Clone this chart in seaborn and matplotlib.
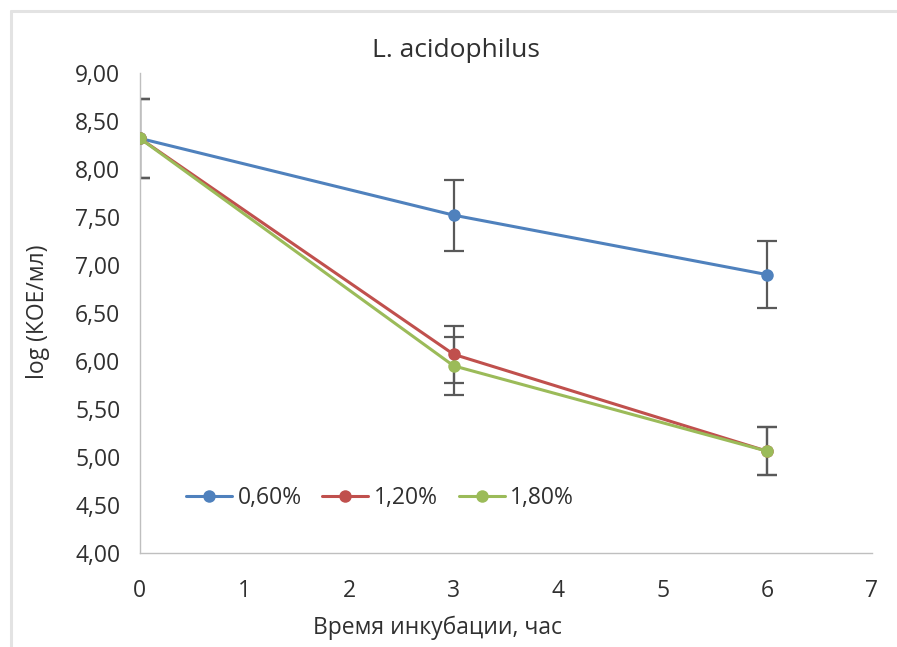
import matplotlib
matplotlib.use("Agg")
import matplotlib.pyplot as plt
from matplotlib.lines import Line2D
import seaborn as sns
import pandas as pd
import numpy as np

# Data
hours = [0, 3, 6]
series_names = ["0,60%", "1,20%", "1,80%"]
vals_060 = [8.32, 7.52, 6.90]
vals_120 = [8.32, 6.07, 5.06]
vals_180 = [8.32, 5.95, 5.06]
err_060 = [0.41, 0.37, 0.35]
err_120 = [0.41, 0.30, 0.25]
err_180 = [0.41, 0.30, 0.25]
yticks = [4.0, 4.5, 5.0, 5.5, 6.0, 6.5, 7.0, 7.5, 8.0, 8.5, 9.0]
ytick_labels = ["4,00", "4,50", "5,00", "5,50", "6,00", "6,50", "7,00", "7,50", "8,00", "8,50", "9,00"]
xticks = [0, 1, 2, 3, 4, 5, 6, 7]
colors = ["#4F81BD", "#C0504D", "#9BBB59"]

sns.set_style("white")
plt.rcParams['font.family'] = ['Open Sans', 'DejaVu Sans']
TXT = "#303030"
FS = 16.5

all_vals = [vals_060, vals_120, vals_180]
all_errs = [err_060, err_120, err_180]
df = pd.DataFrame({
    "hour": hours * 3,
    "value": vals_060 + vals_120 + vals_180,
    "series": [s for s in series_names for _ in hours],
})

fig = plt.figure(figsize=(8.97, 6.47), dpi=100)
ax = fig.add_axes([0.156, 0.1453, 0.816, 0.7417])

# light chart border (top and left)
fig.add_artist(Line2D([10.5 / 897, 10.5 / 897], [0, 1 - 11 / 647], transform=fig.transFigure,
                      color="#E3E3E3", linewidth=2.2))
fig.add_artist(Line2D([10.5 / 897, 1], [1 - 11 / 647, 1 - 11 / 647], transform=fig.transFigure,
                      color="#E3E3E3", linewidth=2.2))

for vals, errs in zip(all_vals, all_errs):
    ax.errorbar(hours, vals, yerr=errs, fmt="none", ecolor="#595959",
                elinewidth=1.6, capsize=7, capthick=1.6, zorder=1)

sns.lineplot(data=df, x="hour", y="value", hue="series", palette=colors,
             marker="o", markersize=9, markeredgewidth=0, linewidth=2.2,
             ax=ax, zorder=3)

ax.set_xlim(0, 7)
ax.set_ylim(4, 9)
ax.set_xticks(xticks)
ax.set_xticklabels([str(x) for x in xticks], fontsize=FS, color=TXT)
ax.set_yticks(yticks)
ax.set_yticklabels(ytick_labels, fontsize=FS, color=TXT)
ax.tick_params(axis="x", length=0, pad=19)
ax.tick_params(axis="y", length=0, pad=14)

for s in ["top", "right"]:
    ax.spines[s].set_visible(False)
for s in ["left", "bottom"]:
    ax.spines[s].set_color("#BFBFBF")
    ax.spines[s].set_linewidth(1.0)

ax.set_xlabel("Время инкубации, час", fontsize=FS, color=TXT)
ax.xaxis.set_label_coords(0.406, -0.131)
ax.set_ylabel("log (КОЕ/мл)", fontsize=FS, color=TXT)
ax.yaxis.set_label_coords(-0.123, 0.502)
ax.set_title("L. acidophilus", fontsize=19, color=TXT, x=0.432, y=(553 - 50) / 480,
             va="center", pad=0)

leg = ax.legend(loc="center left", bbox_to_anchor=(0.035, 0.115), ncol=3, frameon=False,
                fontsize=FS, handlelength=2.0, columnspacing=0.9, handletextpad=0.25)
for t in leg.get_texts():
    t.set_color(TXT)

fig.savefig("out.png", dpi=100)
